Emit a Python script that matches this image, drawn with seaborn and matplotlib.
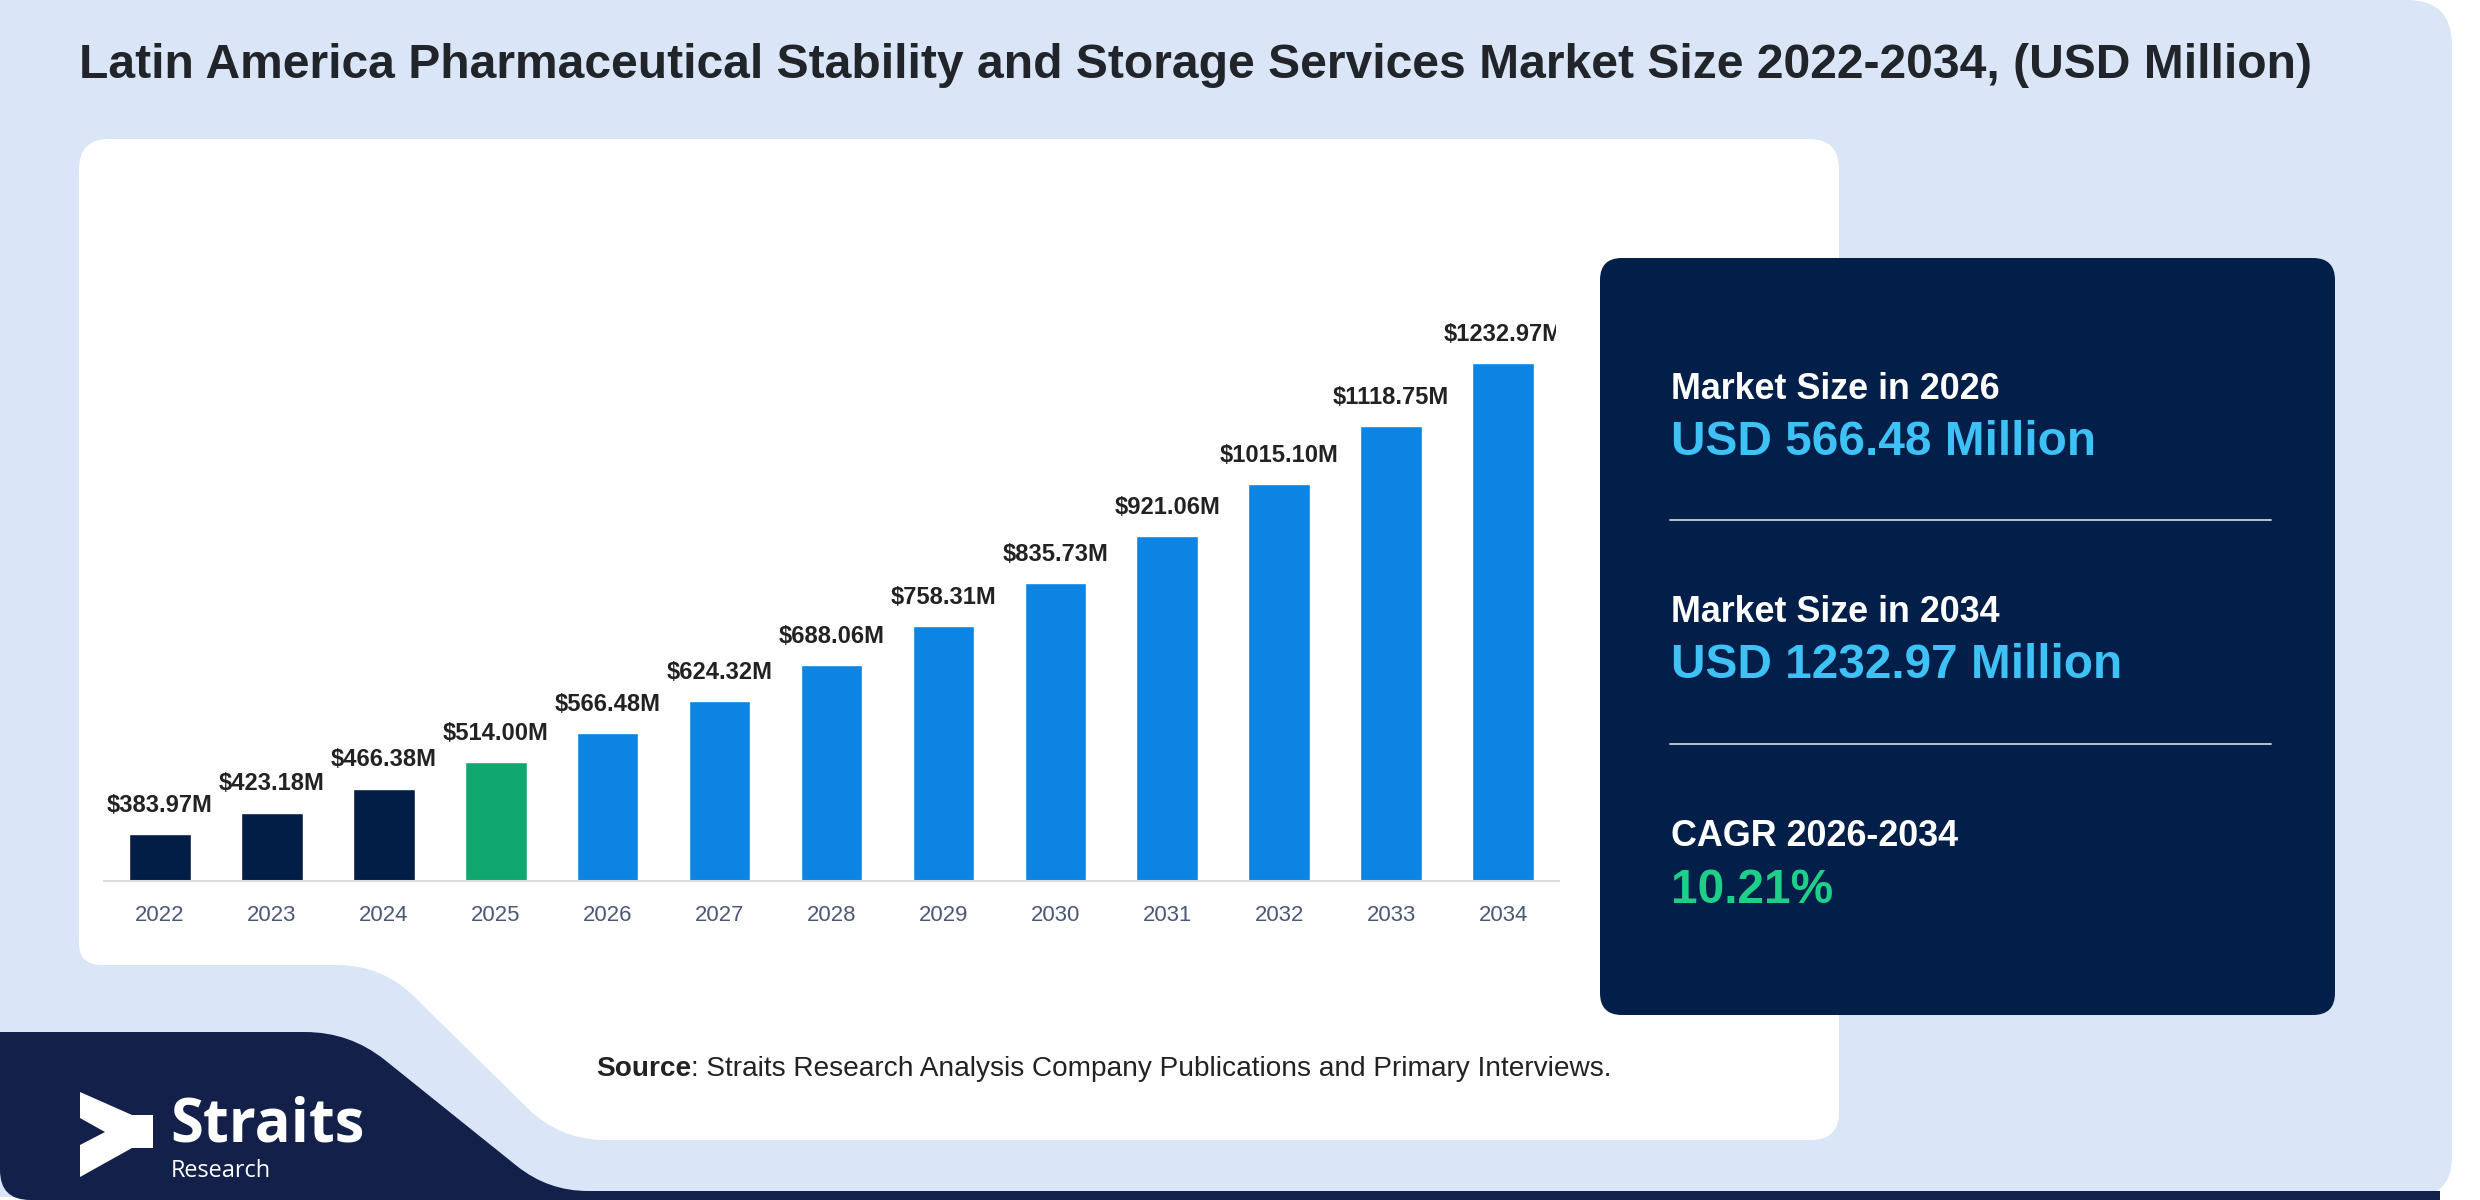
import numpy as np
import pandas as pd
import matplotlib
matplotlib.use("Agg")
import matplotlib.pyplot as plt
import seaborn as sns
from matplotlib.path import Path
from matplotlib.patches import PathPatch
from matplotlib.transforms import Bbox

# ---------------- data ----------------
years = ["2022", "2023", "2024", "2025", "2026", "2027", "2028",
         "2029", "2030", "2031", "2032", "2033", "2034"]
values = [383.97, 423.18, 466.38, 514.00, 566.48, 624.32, 688.06,
          758.31, 835.73, 921.06, 1015.10, 1118.75, 1232.97]
phases = ["Historical"] * 3 + ["Base"] + ["Forecast"] * 9
value_labels = [f"${v:.2f}M" for v in values]

title = ("Latin America Pharmaceutical Stability and Storage Services "
         "Market Size 2022-2034, (USD Million)")
panel_headers = ["Market Size in 2026", "Market Size in 2034", "CAGR 2026-2034"]
panel_values = ["USD 566.48 Million", "USD 1232.97 Million", "10.21%"]
source_bold = "Source"
source_rest = ": Straits Research Analysis Company Publications and Primary Interviews."

# ---------------- style ----------------
W, H = 2480, 1200
C_BG = "#DAE6F8"
C_NAVY_LOGO = "#13204A"
C_BOX = "#021F4A"
C_HIST = "#021E47"
C_BASE = "#11A86F"
C_FORE = "#0B84E3"
C_VAL = "#3EC1F4"
C_GREEN = "#1CD08A"
palette = {"Historical": C_HIST, "Base": C_BASE, "Forecast": C_FORE}

sns.set_theme(style="white")
plt.rcParams["font.family"] = ["Liberation Sans", "DejaVu Sans"]

fig = plt.figure(figsize=(W / 100, H / 100), dpi=100)
fig.patch.set_facecolor("white")
renderer = fig.canvas.get_renderer()

bg = fig.add_axes([0, 0, 1, 1], zorder=0)
bg.set_xlim(0, W)
bg.set_ylim(H, 0)
bg.axis("off")


def round_poly(pts, radii):
    n = len(pts)
    if np.isscalar(radii):
        radii = [radii] * n
    verts, codes = [], []
    for i in range(n):
        P = np.array(pts[i], float)
        A = np.array(pts[i - 1], float)
        B = np.array(pts[(i + 1) % n], float)
        r = radii[i]
        da, db = A - P, B - P
        la, lb = np.linalg.norm(da), np.linalg.norm(db)
        rr = min(r, la / 2, lb / 2)
        p1 = P + da / la * rr
        p2 = P + db / lb * rr
        verts.append(p1)
        codes.append(Path.MOVETO if i == 0 else Path.LINETO)
        verts += [P, p2]
        codes += [Path.CURVE3, Path.CURVE3]
    verts.append(verts[0])
    codes.append(Path.CLOSEPOLY)
    return Path(verts, codes)


def shape(pts, radii, color, z=1):
    bg.add_patch(PathPatch(round_poly(pts, radii), facecolor=color,
                           edgecolor="none", zorder=z))


def text_w(s, size, weight="normal", family=None):
    kw = {} if family is None else {"family": family}
    t = fig.text(0, 0, s, fontsize=size, fontweight=weight, **kw)
    w = t.get_window_extent(renderer).width
    t.remove()
    return w


def fit(s, target, weight="normal", family=None, base=20.0):
    return base * target / text_w(s, base, weight, family)


# ---------------- background shapes ----------------
shape([(0, 0), (2452, 0), (2452, 1197), (0, 1197)], [0, 45, 40, 0], C_BG, 1)
shape([(79, 139), (1839, 139), (1839, 1140), (560, 1140), (382, 965), (79, 965)],
      [30, 30, 28, 45, 45, 22], "white", 2)
shape([(0, 1032), (350, 1032), (548, 1191), (2440, 1191), (2440, 1200), (0, 1200)],
      [0, 45, 40, 0, 0, 30], C_NAVY_LOGO, 3)
shape([(1600, 258), (2335, 258), (2335, 1015), (1600, 1015)], 22, C_BOX, 3)

# ---------------- title ----------------
fs_title = fit(title, 2230, "bold")
bg.text(79, 78, title, fontsize=fs_title, fontweight="bold",
        color="#212529", va="baseline", ha="left", zorder=5)

# ---------------- bar chart ----------------
df = pd.DataFrame({"year": years, "value": values, "phase": phases})
ax = fig.add_axes([104 / W, 1 - 881 / H, 1455 / W, (881 - 309) / H], zorder=4)
ax.patch.set_alpha(0)
sns.barplot(data=df, x="year", y="value", hue="phase", palette=palette,
            order=years, dodge=False, width=0.55, saturation=1,
            legend=False, ax=ax)
ax.set_xlim(-0.5, len(years) - 0.5)
ax.set_ylim(300, 1330)
for side in ["top", "right", "left"]:
    ax.spines[side].set_visible(False)
ax.spines["bottom"].set_color("#DCDCDC")
ax.spines["bottom"].set_linewidth(1.5)
ax.set_xlabel("")
ax.set_ylabel("")
ax.set_yticks([])
fs_tick = fit("2022", 49)
ax.tick_params(axis="x", length=0, pad=17, labelsize=fs_tick, labelcolor="#4B5875")

fs_lab = fit("$383.97M", 106, "bold")
clip = Bbox.from_extents(0, 0, 1556, H)
for i, (v, lab) in enumerate(zip(values, value_labels)):
    t = ax.annotate(lab, (i, v), xytext=(0, 16), textcoords="offset points",
                    ha="center", va="baseline", fontsize=fs_lab,
                    fontweight="bold", color="#222222", annotation_clip=False)
    t.set_clip_on(True)
    t.set_clip_box(clip)

# ---------------- KPI panel texts ----------------
fs_head = fit(panel_headers[0], 329, "bold")
fs_val = fit(panel_values[1], 451, "bold")
head_y = [399, 622, 846]
val_y = [455, 678, 903]
val_colors = [C_VAL, C_VAL, C_GREEN]
for h, hy, v, vy, vc in zip(panel_headers, head_y, panel_values, val_y, val_colors):
    bg.text(1671, hy, h, fontsize=fs_head, fontweight="bold", color="white",
            va="baseline", ha="left", zorder=6)
    bg.text(1671, vy, v, fontsize=fs_val, fontweight="bold", color=vc,
            va="baseline", ha="left", zorder=6)
for ly in [520, 744]:
    bg.plot([1670, 2271], [ly, ly], color="#C9D1DD", lw=1.3, zorder=6)

# ---------------- source ----------------
base = 20.0
wtot = text_w(source_bold, base, "bold") + text_w(source_rest, base)
fs_src = base * 1014 / wtot
w1 = text_w(source_bold, fs_src, "bold")
bg.text(596, 1076, source_bold, fontsize=fs_src, fontweight="bold",
        color="#222222", va="baseline", ha="left", zorder=6)
bg.text(596 + w1, 1076, source_rest, fontsize=fs_src, color="#222222",
        va="baseline", ha="left", zorder=6)

# ---------------- logo ----------------
arrow = [(80, 1092), (132, 1115), (153, 1115), (153, 1148), (132, 1148),
         (80, 1177), (80, 1145), (105, 1132), (80, 1118)]
shape(arrow, 0, "white", 6)
logo_font = ["Open Sans", "DejaVu Sans"]
fs_s = fit("Straits", 194, "bold", logo_font)
bg.text(170, 1141, "Straits", fontsize=fs_s, fontweight="bold",
        family=logo_font, color="white", va="baseline", ha="left", zorder=6)
fs_r = fit("Research", 100, "normal", logo_font)
bg.text(171, 1177, "Research", fontsize=fs_r, family=logo_font,
        color="white", va="baseline", ha="left", zorder=6)

fig.savefig("out.png", dpi=100, facecolor=fig.get_facecolor())
